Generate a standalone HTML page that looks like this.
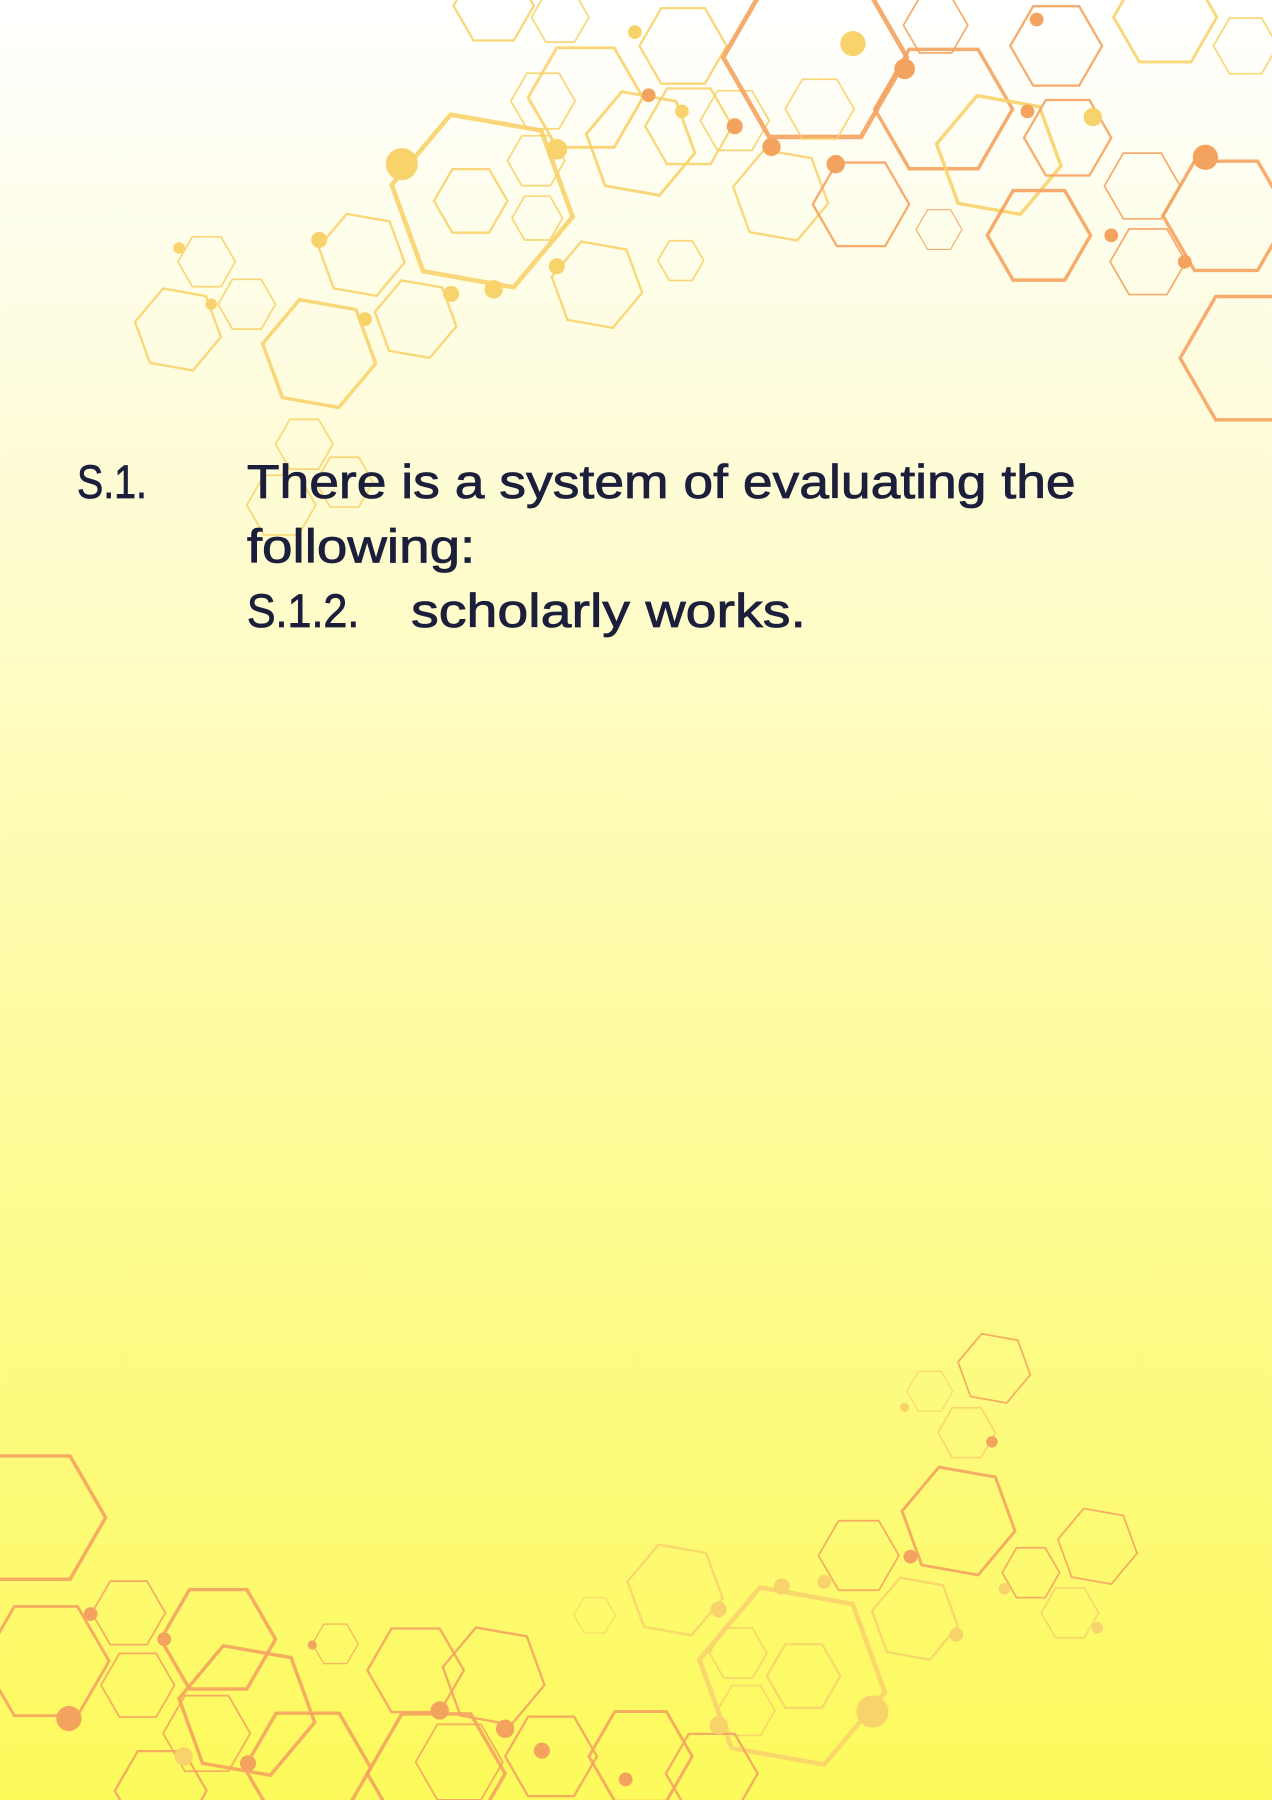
<!DOCTYPE html>
<html>
<head>
<meta charset="utf-8">
<style>
html,body{margin:0;padding:0;}
body{width:1272px;height:1800px;overflow:hidden;}
svg{display:block;}
</style>
</head>
<body>
<svg id="s" width="1272" height="1800" viewBox="0 0 1108 1568" xmlns="http://www.w3.org/2000/svg">
<defs>
<linearGradient id="g" x1="0" y1="0" x2="0" y2="1">
<stop offset="0" stop-color="#ffffff"/>
<stop offset="0.25" stop-color="#fefcd8"/>
<stop offset="0.6" stop-color="#fdfb9c"/>
<stop offset="1" stop-color="#fdfa5c"/>
</linearGradient>
</defs>
<rect width="1108" height="1568" fill="url(#g)"/>
<g id="hx" fill="none"></g>
<g id="dt"></g>
<g font-family="'Liberation Sans', sans-serif" font-size="41" fill="#1b1f3b" stroke="#1b1f3b" stroke-width="0.7">
<text x="67" y="434" textLength="61" lengthAdjust="spacingAndGlyphs">S.1.</text>
<text x="215" y="434" textLength="722" lengthAdjust="spacingAndGlyphs">There is a system of evaluating the</text>
<text x="215" y="490" textLength="199" lengthAdjust="spacingAndGlyphs">following:</text>
<text x="215" y="546" textLength="98" lengthAdjust="spacingAndGlyphs">S.1.2.</text>
<text x="358" y="546" textLength="344" lengthAdjust="spacingAndGlyphs">scholarly works.</text>
</g>
</svg>
<script>
var Y="#f8d36c",O="#f4a35f";
var H=[
[420,175,80,Y,4,10],[410,175,32,Y,2,0],[467,140,25,Y,1.5,0],[468,190,22,Y,1.5,0],[315,222,38,Y,2,10],
[180,228,25,Y,1.5,0],[215,265,25,Y,1.5,0],[155,287,38,Y,2,10],[278,308,50,Y,3,10],[362,278,36,Y,2,10],
[520,248,40,Y,2,10],[593,227,20,Y,1.5,0],[510,85,50,Y,2.5,0],[473,88,28,Y,1.5,0],[558,125,48,Y,2.5,10],
[600,110,38,Y,2,0],[595,40,38,Y,2,0],[640,105,30,Y,1.5,0],[710,50,80,O,4,0],[680,170,42,Y,2,10],
[714,95,30,Y,1.5,0],[750,178,42,O,2,0],[815,22,28,O,1.5,0],[822,95,60,O,3,0],[870,135,55,Y,3,10],
[920,40,40,O,2,0],[930,120,38,O,2,0],[905,205,45,O,3,0],[995,162,33,O,1.5,0],[1000,228,33,O,1.5,0],
[1068,188,55,O,3,0],[1090,312,62,O,3,0],[1015,15,45,Y,2.5,0],[1085,40,28,Y,1.5,0],[818,200,20,O,1,0],
[430,5,35,Y,2,0],[488,15,25,Y,1.5,0],[265,387,25,Y,1.5,0],[300,420,25,Y,1.5,0],[245,440,30,Y,1.5,0],
[30,1322,62,O,3,0],[40,1447,55,O,2.5,0],[112,1405,32,O,1.5,0],[120,1468,32,O,1.5,0],[190,1428,50,O,3,0],
[180,1510,38,O,1.5,0],[215,1490,60,O,3,10],[268,1540,55,O,3,0],[292,1432,20,O,1,0],[362,1455,42,O,2,0],
[430,1460,45,O,2,10],[400,1535,38,O,1.5,0],[480,1530,40,O,2,0],[518,1407,18,Y,1,0],[558,1530,45,O,2.5,0],
[588,1385,42,Y,2,10],[643,1440,25,Y,1.5,0],[650,1490,25,Y,1.5,0],[700,1460,32,Y,2,0],[690,1460,82,Y,4,10],
[748,1355,35,O,1.5,0],[797,1410,38,Y,2,10],[835,1325,50,O,2.5,10],[842,1248,25,Y,1.5,0],[810,1212,20,Y,1,0],
[866,1192,32,O,1.5,10],[898,1370,25,O,1.5,0],[932,1405,25,Y,1.5,0],[956,1347,35,O,1.5,10],[380,1545,60,O,3,0],
[620,1545,40,O,2,0],[140,1560,40,O,2,0]
];
var D=[[350,143,14,Y],[485,130,9,Y],[430,252,8,Y],[743,38,11,Y],[788,60,9,O],[1050,137,11,O],[672,128,8,O],
[728,143,8,O],[903,17,6,O],[952,102,8,Y],[968,205,6,O],[1032,228,6,O],[895,97,6,O],[640,110,7,O],[594,97,6,Y],
[565,83,6,O],[553,28,6,Y],[393,256,7,Y],[318,278,6,Y],[278,209,7,Y],[184,265,5,Y],[156,216,5,Y],[485,232,7,Y],
[60,1497,11,O],[760,1491,14,Y],[626,1402,7,Y],[626,1503,8,Y],[681,1382,7,Y],[718,1378,6,Y],[833,1424,6,Y],
[793,1356,6,O],[383,1490,8,O],[440,1506,8,O],[472,1525,7,O],[216,1536,7,O],[160,1530,8,Y],[79,1406,6,O],
[143,1428,6,O],[272,1433,4,O],[545,1550,6,O],[864,1256,5,O],[788,1226,4,Y],[875,1384,5,Y],[956,1418,5,Y]
];
var ns="http://www.w3.org/2000/svg",hx=document.getElementById("hx"),dt=document.getElementById("dt");
H.forEach(function(h){var p=[];for(var i=0;i<6;i++){var a=(h[5]+60*i)*Math.PI/180;p.push((h[0]+h[2]*Math.cos(a)).toFixed(1)+","+(h[1]+h[2]*Math.sin(a)).toFixed(1));}
var e=document.createElementNS(ns,"polygon");e.setAttribute("points",p.join(" "));e.setAttribute("stroke",h[3]);e.setAttribute("stroke-width",h[4]);e.setAttribute("opacity","0.9");hx.appendChild(e);});
D.forEach(function(d){var e=document.createElementNS(ns,"circle");e.setAttribute("cx",d[0]);e.setAttribute("cy",d[1]);e.setAttribute("r",d[2]);e.setAttribute("fill",d[3]);dt.appendChild(e);});
</script>
</body>
</html>
